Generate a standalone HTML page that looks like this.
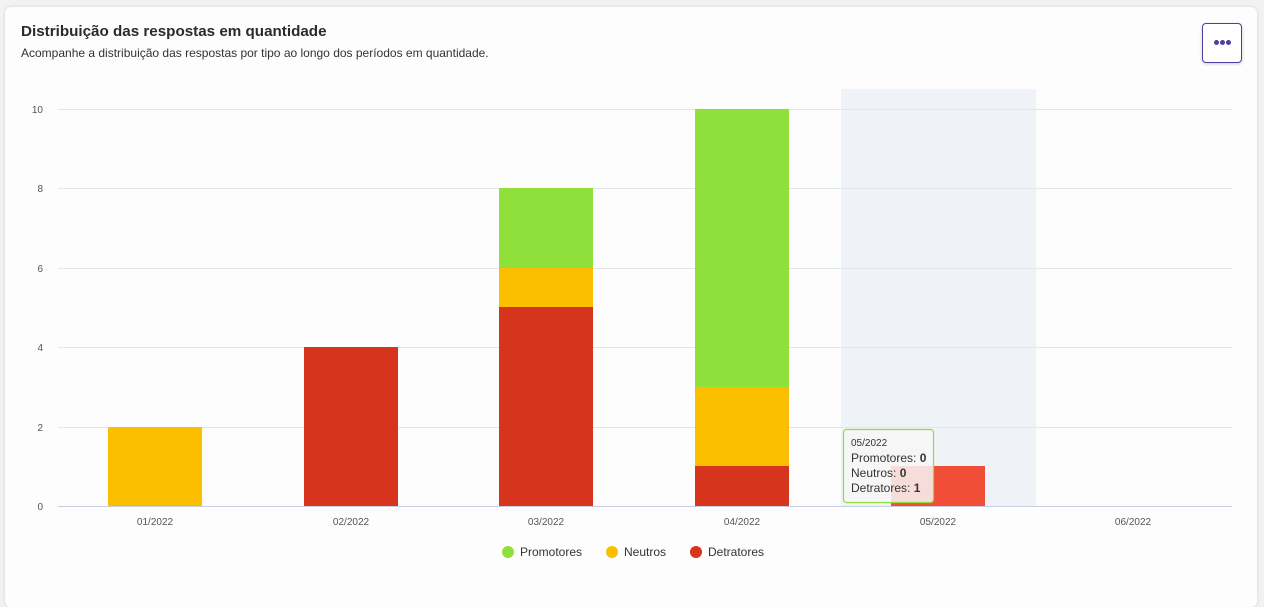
<!DOCTYPE html>
<html><head><meta charset="utf-8"><style>
body{margin:0;background:#f2f2f2;width:1264px;height:593px;overflow:hidden;font-family:"Liberation Sans",Arial,sans-serif}
.card{position:absolute;left:5px;top:7px;width:1252px;height:600px;background:#fdfdfd;border-radius:6px;box-shadow:0 0 3px rgba(0,0,0,.12)}
h1{position:absolute;left:16px;top:16px;margin:0;font-size:15.2px;font-weight:bold;color:#2b2b2b}
.sub{position:absolute;left:16px;top:39px;font-size:12px;color:#333}
.btn{position:absolute;left:1197px;top:16px;width:40px;height:40px;border:1.5px solid #4b3fa0;border-radius:4px;box-sizing:border-box;box-shadow:0 1px 3px rgba(0,0,0,.2);background:#fff}
.btn span{position:absolute;top:16px;width:5px;height:5px;border-radius:50%;background:#4b3fa0}
</style></head><body>
<div class="card"><h1>Distribuição das respostas em quantidade</h1>
<div class="sub">Acompanhe a distribuição das respostas por tipo ao longo dos períodos em quantidade.</div>
<div class="btn"><span style="left:10.5px"></span><span style="left:16.5px"></span><span style="left:22.5px"></span></div></div>
<svg width="1264" height="593" style="position:absolute;left:0;top:0" font-family="Liberation Sans, Arial, sans-serif">
<rect x="841" y="89" width="195" height="417" fill="#eff2f7"/>
<g stroke="#e2e5ea" stroke-width="1">
<line x1="58" x2="1232" y1="109.5" y2="109.5"/><line x1="58" x2="1232" y1="188.5" y2="188.5"/>
<line x1="58" x2="1232" y1="268.5" y2="268.5"/><line x1="58" x2="1232" y1="347.5" y2="347.5"/>
<line x1="58" x2="1232" y1="427.5" y2="427.5"/></g>
<line x1="58" x2="1232" y1="506.5" y2="506.5" stroke="#c8cfe0"/>
<g font-size="10" fill="#555" text-anchor="end">
<text x="43" y="113">10</text><text x="43" y="192">8</text><text x="43" y="272">6</text><text x="43" y="351">4</text><text x="43" y="431">2</text><text x="43" y="510">0</text></g>
<g font-size="10" fill="#555" text-anchor="middle">
<text x="155" y="525">01/2022</text><text x="351" y="525">02/2022</text><text x="546" y="525">03/2022</text><text x="742" y="525">04/2022</text><text x="938" y="525">05/2022</text><text x="1133" y="525">06/2022</text></g>
<rect x="108" y="427" width="94" height="79" fill="#fbbf00"/>
<rect x="304" y="347" width="94" height="159" fill="#d6341d"/>
<rect x="499" y="307" width="94" height="199" fill="#d6341d"/>
<rect x="499" y="268" width="94" height="39" fill="#fbbf00"/>
<rect x="499" y="188" width="94" height="80" fill="#8fe03a"/>
<rect x="695" y="466" width="94" height="40" fill="#d6341d"/>
<rect x="695" y="387" width="94" height="79" fill="#fbbf00"/>
<rect x="695" y="109" width="94" height="278" fill="#8fe03a"/>
<rect x="891" y="466" width="94" height="40" fill="#f04e37"/>
<rect x="843.5" y="429.5" width="90" height="73" rx="3" fill="rgba(247,247,247,.85)" stroke="#8fe03a" stroke-width="1.2"/>
<g font-size="12" fill="#333"><text x="851" y="446" font-size="10">05/2022</text>
<text x="851" y="462">Promotores: <tspan font-weight="bold">0</tspan></text>
<text x="851" y="477">Neutros: <tspan font-weight="bold">0</tspan></text>
<text x="851" y="492">Detratores: <tspan font-weight="bold">1</tspan></text></g>
<g font-size="12" fill="#333">
<circle cx="508" cy="552" r="6" fill="#8fe03a"/><text x="520" y="556">Promotores</text>
<circle cx="612" cy="552" r="6" fill="#fbbf00"/><text x="624" y="556">Neutros</text>
<circle cx="696" cy="552" r="6" fill="#d6341d"/><text x="708" y="556">Detratores</text></g>
</svg>
</body></html>
